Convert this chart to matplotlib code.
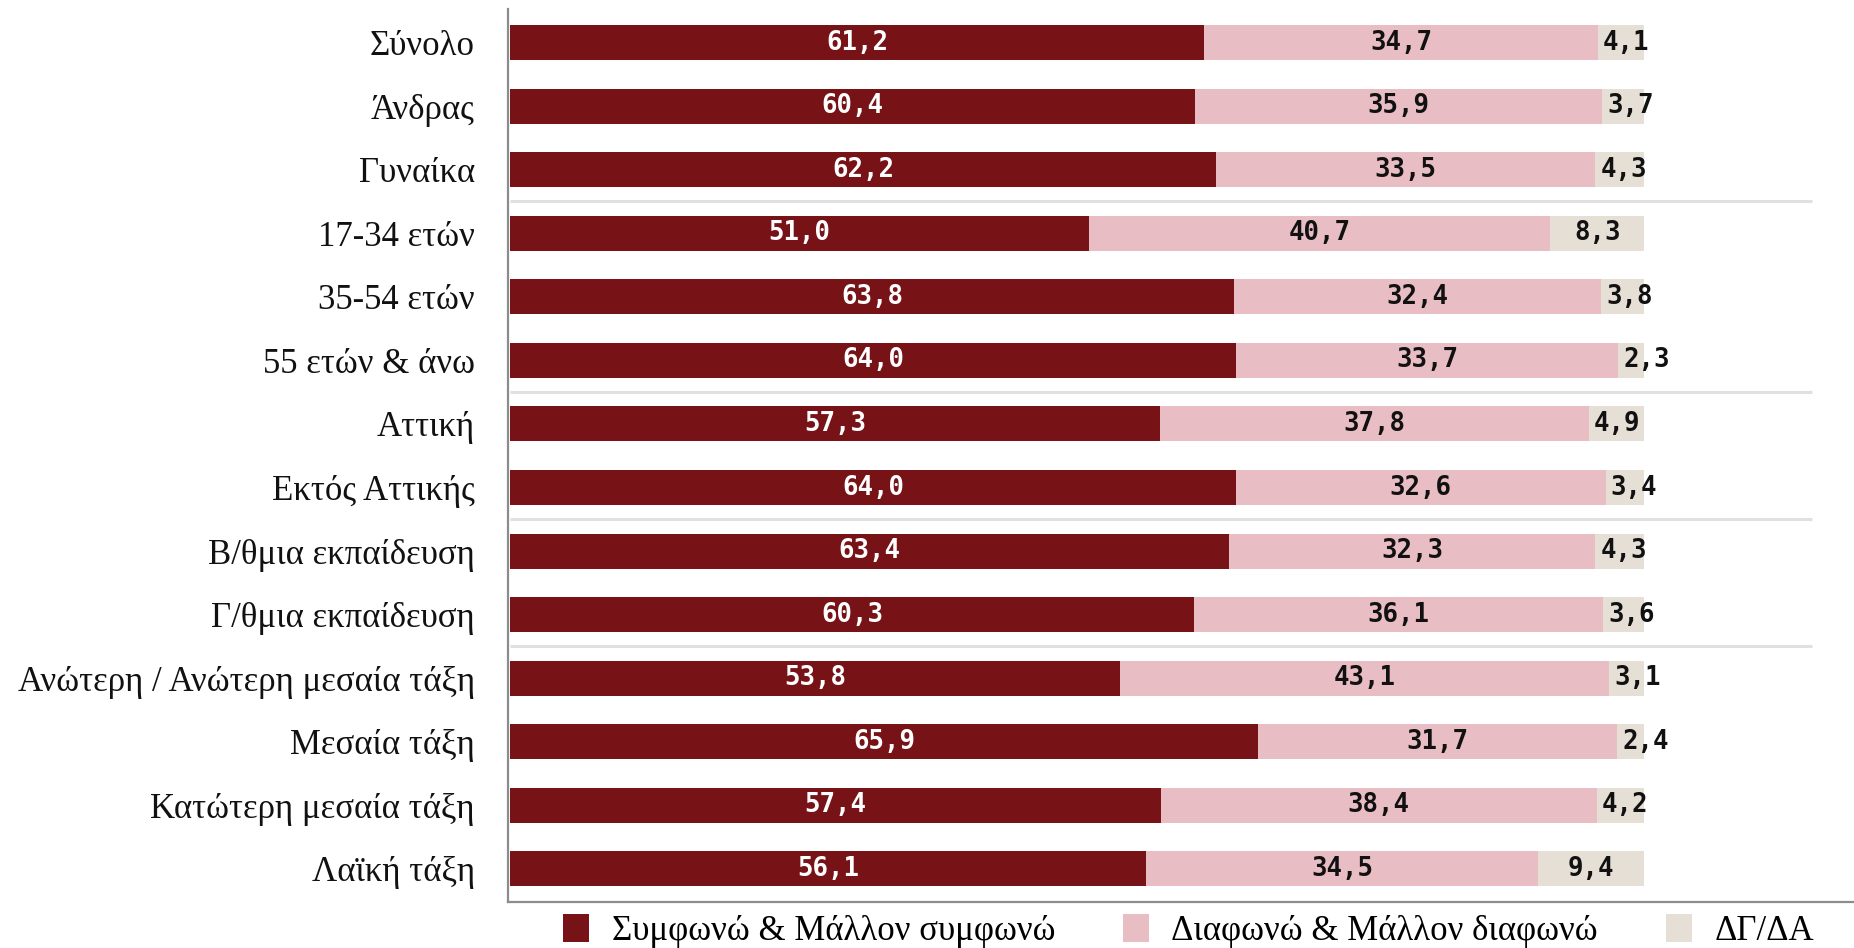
import matplotlib
matplotlib.use("Agg")
import matplotlib.pyplot as plt
from matplotlib.patches import Patch

# data
categories = ["Σύνολο", "Άνδρας", "Γυναίκα", "17-34 ετών", "35-54 ετών",
              "55 ετών & άνω", "Αττική", "Εκτός Αττικής", "Β/θμια εκπαίδευση",
              "Γ/θμια εκπαίδευση", "Ανώτερη / Ανώτερη μεσαία τάξη",
              "Μεσαία τάξη", "Κατώτερη μεσαία τάξη", "Λαϊκή τάξη"]
agree = [61.2, 60.4, 62.2, 51.0, 63.8, 64.0, 57.3, 64.0, 63.4, 60.3, 53.8, 65.9, 57.4, 56.1]
disagree = [34.7, 35.9, 33.5, 40.7, 32.4, 33.7, 37.8, 32.6, 32.3, 36.1, 43.1, 31.7, 38.4, 34.5]
dkna = [4.1, 3.7, 4.3, 8.3, 3.8, 2.3, 4.9, 3.4, 4.3, 3.6, 3.1, 2.4, 4.2, 9.4]
series_names = ["Συμφωνώ & Μάλλον συμφωνώ", "Διαφωνώ & Μάλλον διαφωνώ", "ΔΓ/ΔΑ"]
group_breaks = [2.5, 5.5, 7.5, 9.5]

colors = ["#771216", "#E8BDC4", "#E5DFD6"]
text_colors = ["white", "#111111", "#111111"]
serif = "Liberation Serif"
mono = "DejaVu Sans Mono"


def fmt(v):
    return f"{v:.1f}".replace(".", ",")


fig = plt.figure(figsize=(18.54, 9.48), dpi=100)
ax = fig.add_axes([0.274, 0.0485, 0.726, 0.9415])

y = list(range(len(categories)))
left = [0.0] * len(categories)
for k, vals in enumerate([agree, disagree, dkna]):
    ax.barh(y, vals, left=left, height=0.55, color=colors[k], zorder=2)
    for i, v in enumerate(vals):
        mid = left[i] + v / 2
        if k == 2:
            # small segments: label starts just inside the segment
            mid = max(mid, left[i] + 2.5)
        ax.text(mid, i, fmt(v), ha="center", va="center", color=text_colors[k],
                fontsize=18.5, family=mono, fontweight="bold", zorder=3)
    left = [a + b for a, b in zip(left, vals)]

# group separators
for yb in group_breaks:
    ax.plot([0, 114.8], [yb, yb], color="#e0e0e0", lw=2.2, zorder=1, solid_capstyle="butt")

ax.set_xlim(-0.2, 118.5)
ax.set_ylim(13.52, -0.52)
ax.set_yticks(y)
ax.set_yticklabels(categories, family=serif, fontsize=25, color="#111111")
ax.tick_params(axis="y", length=0, pad=24)
ax.set_xticks([])
for s in ["top", "right"]:
    ax.spines[s].set_visible(False)
for s in ["left", "bottom"]:
    ax.spines[s].set_color("#8c8c8c")
    ax.spines[s].set_linewidth(1.6)

handles = [Patch(facecolor=c, edgecolor="none") for c in colors]
fig.legend(handles, series_names, loc="center", bbox_to_anchor=(0.641, 0.018),
           ncol=3, frameon=False, prop={"family": serif, "size": 25},
           handlelength=0.75, handleheight=0.85, handletextpad=0.65, columnspacing=1.95,
           borderpad=0, borderaxespad=0)

fig.savefig("out.png", dpi=100)
